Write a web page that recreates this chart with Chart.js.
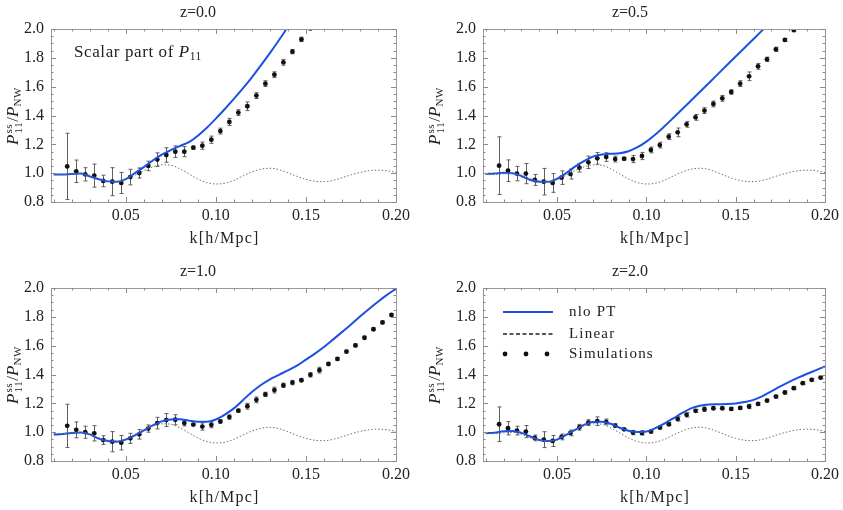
<!DOCTYPE html>
<html>
<head>
<meta charset="utf-8">
<script src="https://cdn.jsdelivr.net/npm/chart.js@4.4.1/dist/chart.umd.min.js"></script>
<style>
  body { margin: 0; background: #fff; width: 843px; height: 510px; overflow: hidden; position: relative;
         font-family: "Liberation Serif", "DejaVu Serif", serif; color: #222; }
  canvas { position: absolute; }
  .ylab { position: absolute; font-size: 17px; white-space: nowrap; transform: translate(-50%, -50%) rotate(-90deg); }
  .stack { display: inline-flex; flex-direction: column; font-size: 11px; line-height: 9.5px; vertical-align: 6px; margin-left: 1px; letter-spacing: 0.6px; }
  .ylab sub { font-size: 11px; vertical-align: -3px; letter-spacing: 0.6px; }
  .note { position: absolute; font-size: 17px; letter-spacing: 0.6px; white-space: nowrap; }
  .note sub { font-size: 11.5px; vertical-align: -3px; letter-spacing: 0.3px; }
</style>
</head>
<body>
<canvas id="c1" width="421" height="251" style="left:0;top:0"></canvas>
<canvas id="c2" width="411" height="251" style="left:432px;top:0"></canvas>
<canvas id="c3" width="421" height="251" style="left:0;top:259px"></canvas>
<canvas id="c4" width="411" height="251" style="left:432px;top:259px"></canvas>

<div class="ylab" style="left:13px;top:116px"><i>P</i><span class="stack"><span>ss</span><span>11</span></span>/<i>P</i><sub>NW</sub></div>
<div class="ylab" style="left:435px;top:116px"><i>P</i><span class="stack"><span>ss</span><span>11</span></span>/<i>P</i><sub>NW</sub></div>
<div class="ylab" style="left:13px;top:375px"><i>P</i><span class="stack"><span>ss</span><span>11</span></span>/<i>P</i><sub>NW</sub></div>
<div class="ylab" style="left:435px;top:375px"><i>P</i><span class="stack"><span>ss</span><span>11</span></span>/<i>P</i><sub>NW</sub></div>
<div class="note" style="left:74px;top:42px">Scalar part of <i>P</i><sub>11</sub></div>

<script>
// k grid of the theory curves (h/Mpc)
const kLine = [0.010, 0.015, 0.020, 0.025, 0.030, 0.035, 0.040, 0.045, 0.050, 0.055,
               0.060, 0.065, 0.070, 0.075, 0.080, 0.085, 0.090, 0.095, 0.100, 0.105,
               0.110, 0.115, 0.120, 0.125, 0.130, 0.135, 0.140, 0.145, 0.150, 0.155,
               0.160, 0.165, 0.170, 0.175, 0.180, 0.185, 0.190, 0.195, 0.200];

// linear ratio (same in every panel)
const linearRatio = [0.990, 0.990, 0.995, 0.998, 0.985, 0.962, 0.945, 0.940, 0.955, 0.985,
                     1.018, 1.043, 1.058, 1.055, 1.030, 0.995, 0.960, 0.935, 0.925, 0.930,
                     0.950, 0.980, 1.008, 1.027, 1.034, 1.025, 1.003, 0.978, 0.957, 0.944,
                     0.941, 0.950, 0.968, 0.988, 1.005, 1.017, 1.021, 1.017, 1.005];

// nlo PT curves
const nloZ00 = [0.990, 0.990, 0.995, 0.997, 0.978, 0.958, 0.943, 0.940, 0.958, 1.000,
                1.042, 1.088, 1.128, 1.160, 1.188, 1.215, 1.260, 1.315, 1.378, 1.445,
                1.515, 1.588, 1.665, 1.748, 1.833, 1.922, 2.015, 2.105];
const nloZ05 = [0.995, 0.998, 1.003, 1.000, 0.980, 0.953, 0.940, 0.940, 0.962, 1.000,
                1.045, 1.083, 1.115, 1.130, 1.134, 1.138, 1.152, 1.180, 1.219, 1.268,
                1.324, 1.383, 1.443, 1.504, 1.565, 1.626, 1.687, 1.748, 1.809, 1.870,
                1.931, 1.992, 2.053];
const nloZ10 = [0.983, 0.987, 0.995, 0.998, 0.985, 0.955, 0.938, 0.934, 0.948, 0.978,
                1.012, 1.047, 1.075, 1.088, 1.089, 1.080, 1.072, 1.072, 1.088, 1.122,
                1.165, 1.222, 1.278, 1.327, 1.367, 1.398, 1.428, 1.461, 1.503, 1.545,
                1.591, 1.642, 1.694, 1.747, 1.802, 1.855, 1.905, 1.952, 1.995];
const nloZ20 = [0.993, 0.996, 1.006, 1.008, 0.995, 0.970, 0.946, 0.939, 0.948, 0.981,
                1.016, 1.050, 1.071, 1.073, 1.058, 1.031, 1.010, 1.001, 1.005, 1.028,
                1.060, 1.095, 1.133, 1.165, 1.183, 1.192, 1.194, 1.195, 1.199, 1.209,
                1.224, 1.250, 1.283, 1.317, 1.349, 1.378, 1.405, 1.430, 1.456];

// simulation bins
const kSim = [0.0175, 0.0225, 0.0275, 0.0325, 0.0375, 0.0425, 0.0475, 0.0525, 0.0575, 0.0625,
              0.0675, 0.0725, 0.0775, 0.0825, 0.0875, 0.0925, 0.0975, 0.1025, 0.1075, 0.1125,
              0.1175, 0.1225, 0.1275, 0.1325, 0.1375, 0.1425, 0.1475, 0.1525, 0.1575, 0.1625,
              0.1675, 0.1725, 0.1775, 0.1825, 0.1875, 0.1925, 0.1975];

const simZ00 = [1.047, 1.013, 0.992, 0.983, 0.946, 0.941, 0.932, 0.973, 1.001, 1.050,
                1.094, 1.126, 1.149, 1.149, 1.177, 1.191, 1.232, 1.292, 1.355, 1.420,
                1.464, 1.538, 1.621, 1.683, 1.769, 1.843, 1.928, 2.005];
const errZ00 = [0.230, 0.078, 0.046, 0.080, 0.040, 0.097, 0.073, 0.054, 0.035, 0.033,
                0.047, 0.050, 0.040, 0.035, 0.010, 0.025, 0.025, 0.020, 0.025, 0.020,
                0.030, 0.020, 0.020, 0.020, 0.020, 0.015, 0.015, 0.010];

const simZ05 = [1.052, 1.017, 0.997, 0.997, 0.953, 0.941, 0.932, 0.969, 0.994, 1.038,
                1.075, 1.103, 1.112, 1.098, 1.100, 1.098, 1.119, 1.161, 1.195, 1.253,
                1.283, 1.339, 1.387, 1.434, 1.480, 1.519, 1.563, 1.621, 1.672, 1.741,
                1.790, 1.859, 1.924, 1.993];
const errZ05 = [0.200, 0.075, 0.050, 0.070, 0.038, 0.092, 0.065, 0.047, 0.035, 0.030,
                0.043, 0.040, 0.030, 0.020, 0.008, 0.025, 0.025, 0.020, 0.020, 0.020,
                0.030, 0.020, 0.020, 0.020, 0.020, 0.020, 0.015, 0.020, 0.030, 0.020,
                0.015, 0.015, 0.010, 0.012];

const simZ10 = [1.044, 1.016, 1.000, 0.992, 0.945, 0.934, 0.927, 0.957, 0.985, 1.025,
                1.063, 1.084, 1.086, 1.063, 1.053, 1.039, 1.051, 1.074, 1.105, 1.149,
                1.180, 1.224, 1.262, 1.292, 1.325, 1.344, 1.360, 1.398, 1.430, 1.473,
                1.508, 1.559, 1.602, 1.655, 1.714, 1.761, 1.813];
const errZ10 = [0.150, 0.055, 0.042, 0.053, 0.030, 0.070, 0.050, 0.035, 0.033, 0.025,
                0.040, 0.045, 0.035, 0.020, 0.008, 0.025, 0.020, 0.010, 0.015, 0.010,
                0.020, 0.020, 0.015, 0.020, 0.015, 0.015, 0.010, 0.015, 0.020, 0.010,
                0.010, 0.010, 0.010, 0.010, 0.010, 0.010, 0.010];

const simZ20 = [1.055, 1.027, 1.011, 1.004, 0.960, 0.948, 0.939, 0.967, 0.995, 1.034,
                1.066, 1.076, 1.071, 1.046, 1.020, 0.997, 0.995, 1.004, 1.032, 1.055,
                1.092, 1.120, 1.148, 1.159, 1.166, 1.166, 1.161, 1.168, 1.178, 1.196,
                1.219, 1.247, 1.275, 1.305, 1.340, 1.363, 1.379];
const errZ20 = [0.120, 0.046, 0.030, 0.042, 0.020, 0.055, 0.038, 0.020, 0.020, 0.020,
                0.020, 0.030, 0.020, 0.012, 0.005, 0.015, 0.015, 0.010, 0.010, 0.010,
                0.015, 0.015, 0.010, 0.015, 0.010, 0.010, 0.010, 0.010, 0.015, 0.010,
                0.010, 0.010, 0.010, 0.010, 0.010, 0.010, 0.010];

// ticks
const xTicks = [0.05, 0.10, 0.15, 0.20];
const xMinor = [0.01, 0.02, 0.03, 0.04, 0.06, 0.07, 0.08, 0.09, 0.11, 0.12, 0.13, 0.14, 0.16, 0.17, 0.18, 0.19];
const yTicks = [0.8, 1.0, 1.2, 1.4, 1.6, 1.8, 2.0];
const yMinor = [0.85, 0.9, 0.95, 1.05, 1.1, 1.15, 1.25, 1.3, 1.35, 1.45, 1.5, 1.55, 1.65, 1.7, 1.75, 1.85, 1.9, 1.95];

const panels = [
  { id: 'c1', title: 'z=0.0', nlo: nloZ00, sim: simZ00, err: errZ00, legend: false },
  { id: 'c2', title: 'z=0.5', nlo: nloZ05, sim: simZ05, err: errZ05, legend: false },
  { id: 'c3', title: 'z=1.0', nlo: nloZ10, sim: simZ10, err: errZ10, legend: false },
  { id: 'c4', title: 'z=2.0', nlo: nloZ20, sim: simZ20, err: errZ20, legend: true }
];

const BLUE = '#1c50e4';
const SERIF = '"Liberation Serif", "DejaVu Serif", serif';

function makeDecor(p) {
  return {
    id: 'decor',
    beforeDatasetsDraw(chart) {
      // error bars
      const { ctx, chartArea: a, scales: { x, y } } = chart;
      ctx.save();
      ctx.beginPath();
      ctx.rect(a.left, a.top, a.right - a.left, a.bottom - a.top);
      ctx.clip();
      ctx.strokeStyle = '#5e5e5e';
      ctx.lineWidth = 1;
      p.sim.forEach((v, i) => {
        const px = Math.round(x.getPixelForValue(kSim[i])) + 0.5;
        const y1 = y.getPixelForValue(v + p.err[i]);
        const y2 = y.getPixelForValue(v - p.err[i]);
        ctx.beginPath();
        ctx.moveTo(px, y1); ctx.lineTo(px, y2);
        ctx.moveTo(px - 2, y1); ctx.lineTo(px + 2, y1);
        ctx.moveTo(px - 2, y2); ctx.lineTo(px + 2, y2);
        ctx.stroke();
      });
      ctx.restore();
    },
    afterDraw(chart) {
      const { ctx, chartArea: a, scales: { x, y } } = chart;
      ctx.save();
      // frame
      ctx.strokeStyle = '#9a9a9a';
      ctx.lineWidth = 1;
      ctx.strokeRect(Math.round(a.left) + 0.5, Math.round(a.top) + 0.5,
                     Math.round(a.right - a.left), Math.round(a.bottom - a.top));
      // inward ticks on all four sides
      ctx.strokeStyle = '#8a8a8a';
      ctx.beginPath();
      const xt = (v, len) => {
        const px = Math.round(x.getPixelForValue(v)) + 0.5;
        ctx.moveTo(px, a.bottom); ctx.lineTo(px, a.bottom - len);
        ctx.moveTo(px, a.top); ctx.lineTo(px, a.top + len);
      };
      const yt = (v, len) => {
        const py = Math.round(y.getPixelForValue(v)) + 0.5;
        ctx.moveTo(a.left, py); ctx.lineTo(a.left + len, py);
        ctx.moveTo(a.right, py); ctx.lineTo(a.right - len, py);
      };
      xTicks.forEach(v => xt(v, 5));
      xMinor.forEach(v => xt(v, 2.5));
      yTicks.forEach(v => yt(v, 5));
      yMinor.forEach(v => yt(v, 2.5));
      ctx.stroke();
      // x axis title
      ctx.fillStyle = '#222';
      ctx.font = '16px ' + SERIF;
      ctx.textAlign = 'center';
      ctx.textBaseline = 'middle';
      ctx.letterSpacing = '1.2px';
      ctx.fillText('k[h/Mpc]', (a.left + a.right) / 2 + 1, a.bottom + 37);
      // legend
      if (p.legend) {
        const ds = chart.data.datasets;
        const x0 = a.left + 20, x1 = a.left + 70, tx = a.left + 86;
        const rows = [a.top + 24, a.top + 46, a.top + 66];
        ctx.lineWidth = ds[1].borderWidth;
        ctx.strokeStyle = ds[1].borderColor;
        ctx.beginPath(); ctx.moveTo(x0, rows[0]); ctx.lineTo(x1, rows[0]); ctx.stroke();
        ctx.lineWidth = 1.4;
        ctx.strokeStyle = '#222';
        ctx.setLineDash([4, 2.5]);
        ctx.beginPath(); ctx.moveTo(x0, rows[1]); ctx.lineTo(x1, rows[1]); ctx.stroke();
        ctx.setLineDash([]);
        ctx.fillStyle = ds[2].backgroundColor;
        [x0 + 2, x0 + 23, x0 + 44].forEach(cx => {
          ctx.beginPath(); ctx.arc(cx, rows[2], ds[2].pointRadius, 0, Math.PI * 2); ctx.fill();
        });
        ctx.fillStyle = '#222';
        ctx.font = '15px ' + SERIF;
        ctx.textAlign = 'left';
        ctx.letterSpacing = '1.2px';
        ctx.fillText(ds[1].label, tx, rows[0]);
        ctx.fillText(ds[0].label, tx, rows[1]);
        ctx.fillText(ds[2].label, tx, rows[2]);
      }
      ctx.restore();
    }
  };
}

panels.forEach(p => {
  const canvas = document.getElementById(p.id);
  new Chart(canvas, {
    type: 'scatter',
    data: {
      datasets: [
        {
          label: 'Linear',
          data: kLine.map((k, i) => ({ x: k, y: linearRatio[i] })),
          showLine: true,
          borderColor: '#6e6e6e',
          borderWidth: 1,
          borderDash: [1.5, 2],
          pointRadius: 0,
          cubicInterpolationMode: 'monotone'
        },
        {
          label: 'nlo PT',
          data: p.nlo.map((v, i) => ({ x: kLine[i], y: v })),
          showLine: true,
          borderColor: BLUE,
          borderWidth: 2,
          pointRadius: 0,
          cubicInterpolationMode: 'monotone'
        },
        {
          label: 'Simulations',
          data: p.sim.map((v, i) => ({ x: kSim[i], y: v })),
          showLine: false,
          backgroundColor: '#111',
          borderWidth: 0,
          pointRadius: 2.4
        }
      ]
    },
    options: {
      responsive: false,
      animation: false,
      layout: { padding: { left: 0, right: canvas.width - 396, top: 0, bottom: 0 } },
      plugins: {
        legend: { display: false },
        tooltip: { enabled: false },
        title: {
          display: true,
          text: p.title,
          color: '#222',
          font: { family: SERIF, size: 16, weight: 'normal' },
          padding: { top: 3, bottom: 6.8 }
        }
      },
      scales: {
        x: {
          type: 'linear',
          min: 0.0085,
          max: 0.2,
          grid: { display: false, drawTicks: false },
          border: { display: false },
          afterBuildTicks: s => { s.ticks = xTicks.map(v => ({ value: v })); },
          afterFit: s => { s.height = 49; },
          ticks: {
            autoSkip: false, maxRotation: 0, padding: 4, color: '#222',
            font: { family: SERIF, size: 16 },
            callback: v => v.toFixed(2)
          }
        },
        y: {
          min: 0.8,
          max: 2.0,
          grid: { display: false, drawTicks: false },
          border: { display: false },
          afterBuildTicks: s => { s.ticks = yTicks.map(v => ({ value: v })); },
          afterFit: s => { s.width = 51; },
          ticks: {
            autoSkip: false, padding: 7, color: '#222',
            font: { family: SERIF, size: 16 },
            callback: v => v.toFixed(1)
          }
        }
      }
    },
    plugins: [makeDecor(p)]
  });
});
</script>
</body>
</html>
